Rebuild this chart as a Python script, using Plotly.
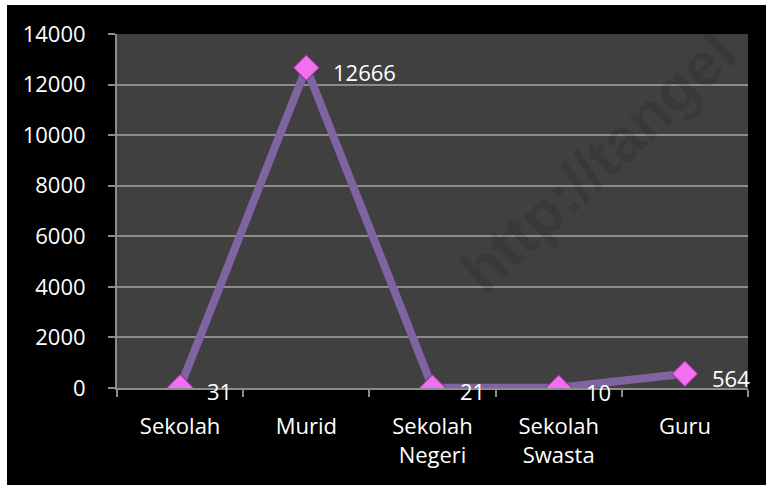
import plotly.graph_objects as go

categories = ["Sekolah", "Murid", "Sekolah<br>Negeri", "Sekolah<br>Swasta", "Guru"]
values = [31, 12666, 21, 10, 564]
labels = ["31", "12666", "21", "10", "564"]
y_ticks = [0, 2000, 4000, 6000, 8000, 10000, 12000, 14000]
y_tick_text = ["0", "2000", "4000", "6000", "8000", "10000", "12000", "14000"]

FONT = "Open Sans"
FS = 22
OFF_X, OFF_Y = 7, 5  # white page margin seen in the reference
W, H = 766 - OFF_X, 485 - OFF_Y
ML, MT = 117 - OFF_X, 34 - OFF_Y
MR = W - (748 - OFF_X)
MB = H - (388 - OFF_Y)
PW, PH = W - ML - MR, H - MT - MB

def px_x(page_x):
    return (page_x - OFF_X - ML) / PW

def px_y(page_y):
    return (H - MB - (page_y - OFF_Y)) / PH

fig = go.Figure()

fig.add_trace(go.Scatter(
    x=categories, y=values, mode="lines+markers",
    line=dict(color="#8064A2", width=8),
    marker=dict(symbol="diamond", size=20, color="#F070F0",
                line=dict(color="rgba(120,40,120,0.6)", width=1.5)),
    showlegend=False, hoverinfo="skip",
))

for c, v, t in zip(categories, values, labels):
    fig.add_annotation(x=c, y=v, text=t, showarrow=False, xanchor="left",
                       yanchor="middle", xshift=25, yshift=-4,
                       font=dict(family=FONT, size=FS, color="white"))

# watermark
fig.add_annotation(xref="paper", yref="paper", x=px_x(598), y=px_y(162),
                   text="<b>http://tangel</b>", showarrow=False, textangle=-43,
                   xanchor="center", yanchor="middle",
                   font=dict(family="Liberation Sans", size=61, color="rgba(0,0,0,0.1)"))

fig.update_layout(
    width=W, height=H,
    margin=dict(l=ML, r=MR, t=MT, b=MB, pad=0),
    paper_bgcolor="black", plot_bgcolor="#404040",
    font=dict(family=FONT, size=FS, color="white"),
    xaxis=dict(type="category", tickson="boundaries", ticks="outside", ticklen=7,
               tickwidth=2, tickcolor="#8C8C8C", showline=True, linecolor="#8C8C8C",
               linewidth=2, showgrid=False, range=[-0.5, 4.5],
               ticklabelstandoff=18, tickfont=dict(family=FONT, size=FS, color="white")),
    yaxis=dict(range=[0, 14000], tickvals=y_ticks, ticktext=y_tick_text,
               ticks="outside", ticklen=7,
               tickwidth=2, tickcolor="#8C8C8C", showline=True, linecolor="#8C8C8C",
               linewidth=2, gridcolor="#8C8C8C", gridwidth=2, zeroline=False,
               ticklabelstandoff=18, tickfont=dict(family=FONT, size=FS, color="white")),
)

page_css = ("document.body.style.margin='%dpx 0 0 %dpx';"
            "document.body.style.overflow='hidden';"
            "document.body.style.background='white';") % (OFF_Y, OFF_X)

fig.write_html("out.html", post_script=page_css)
